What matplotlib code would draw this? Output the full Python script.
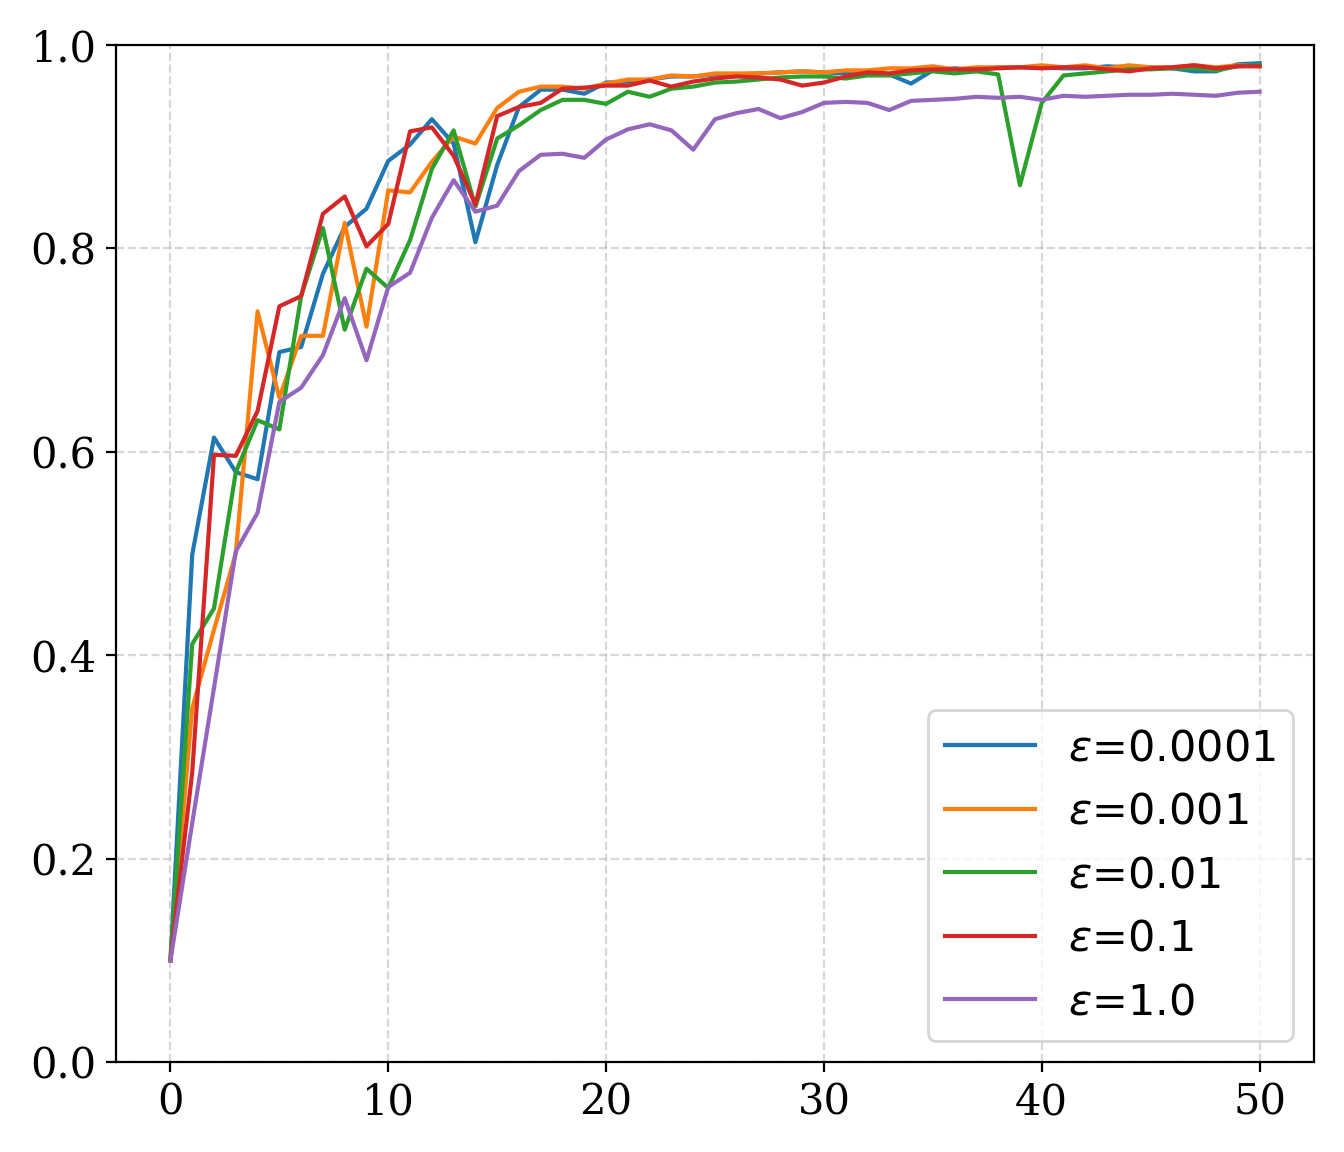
import numpy as np
import matplotlib
matplotlib.use('Agg')
import matplotlib.pyplot as plt

plt.rcParams['font.family'] = 'DejaVu Serif'
plt.rcParams['mathtext.fontset'] = 'dejavusans'
plt.rcParams['font.size'] = 15

# accuracy per epoch for each epsilon
epochs = np.arange(51)
labels = [r'$\varepsilon$=0.0001', r'$\varepsilon$=0.001', r'$\varepsilon$=0.01',
          r'$\varepsilon$=0.1', r'$\varepsilon$=1.0']

acc_1e4 = [0.1, 0.499, 0.614, 0.580, 0.573, 0.698, 0.703, 0.775, 0.821, 0.839,
           0.886, 0.902, 0.927, 0.903, 0.806, 0.882, 0.939, 0.956, 0.956, 0.952,
           0.963, 0.964, 0.966, 0.969, 0.969, 0.971, 0.971, 0.972, 0.973, 0.974,
           0.973, 0.972, 0.971, 0.971, 0.962, 0.975, 0.977, 0.975, 0.978, 0.978,
           0.978, 0.977, 0.977, 0.979, 0.978, 0.978, 0.977, 0.974, 0.974, 0.981,
           0.982]
acc_1e3 = [0.1, 0.348, 0.425, 0.500, 0.738, 0.653, 0.714, 0.714, 0.825, 0.723,
           0.857, 0.855, 0.885, 0.910, 0.903, 0.938, 0.954, 0.959, 0.959, 0.957,
           0.962, 0.966, 0.966, 0.970, 0.969, 0.972, 0.972, 0.972, 0.973, 0.974,
           0.973, 0.975, 0.975, 0.977, 0.977, 0.979, 0.976, 0.978, 0.978, 0.978,
           0.980, 0.978, 0.980, 0.977, 0.980, 0.978, 0.978, 0.980, 0.978, 0.980,
           0.979]
acc_1e2 = [0.1, 0.411, 0.446, 0.580, 0.631, 0.622, 0.753, 0.820, 0.720, 0.780,
           0.761, 0.808, 0.878, 0.916, 0.841, 0.908, 0.921, 0.936, 0.946, 0.946,
           0.942, 0.954, 0.949, 0.957, 0.959, 0.963, 0.964, 0.966, 0.968, 0.969,
           0.969, 0.967, 0.970, 0.970, 0.972, 0.974, 0.972, 0.974, 0.971, 0.862,
           0.943, 0.970, 0.972, 0.974, 0.976, 0.976, 0.977, 0.977, 0.975, 0.979,
           0.980]
acc_1e1 = [0.1, 0.285, 0.597, 0.596, 0.640, 0.743, 0.753, 0.834, 0.851, 0.802,
           0.824, 0.915, 0.919, 0.891, 0.843, 0.930, 0.939, 0.943, 0.957, 0.958,
           0.960, 0.960, 0.965, 0.959, 0.964, 0.967, 0.969, 0.968, 0.966, 0.960,
           0.963, 0.969, 0.973, 0.972, 0.975, 0.976, 0.976, 0.976, 0.977, 0.978,
           0.977, 0.978, 0.978, 0.976, 0.974, 0.977, 0.978, 0.980, 0.977, 0.979,
           0.979]
acc_1e0 = [0.1, 0.235, 0.368, 0.502, 0.540, 0.649, 0.663, 0.695, 0.751, 0.690,
           0.762, 0.776, 0.830, 0.867, 0.836, 0.842, 0.876, 0.892, 0.893, 0.889,
           0.907, 0.917, 0.922, 0.916, 0.897, 0.927, 0.933, 0.937, 0.928, 0.934,
           0.943, 0.944, 0.943, 0.936, 0.945, 0.946, 0.947, 0.949, 0.948, 0.949,
           0.946, 0.950, 0.949, 0.950, 0.951, 0.951, 0.952, 0.951, 0.950, 0.953,
           0.954]

series = [acc_1e4, acc_1e3, acc_1e2, acc_1e1, acc_1e0]

fig, ax = plt.subplots(figsize=(6.72, 5.76), dpi=200)
fig.subplots_adjust(left=0.0863, right=0.9777, top=0.961, bottom=0.0781)

for ys, lab in zip(series, labels):
    ax.plot(epochs, ys, label=lab, lw=1.5)

ax.set_ylim(0, 1.0)
ax.grid(True, linestyle='--', alpha=0.5)
ax.legend(loc='lower right', prop={'family': 'DejaVu Sans', 'size': 15.5},
          handlelength=2.1, handletextpad=0.75)

fig.savefig('out.png', dpi=200)
